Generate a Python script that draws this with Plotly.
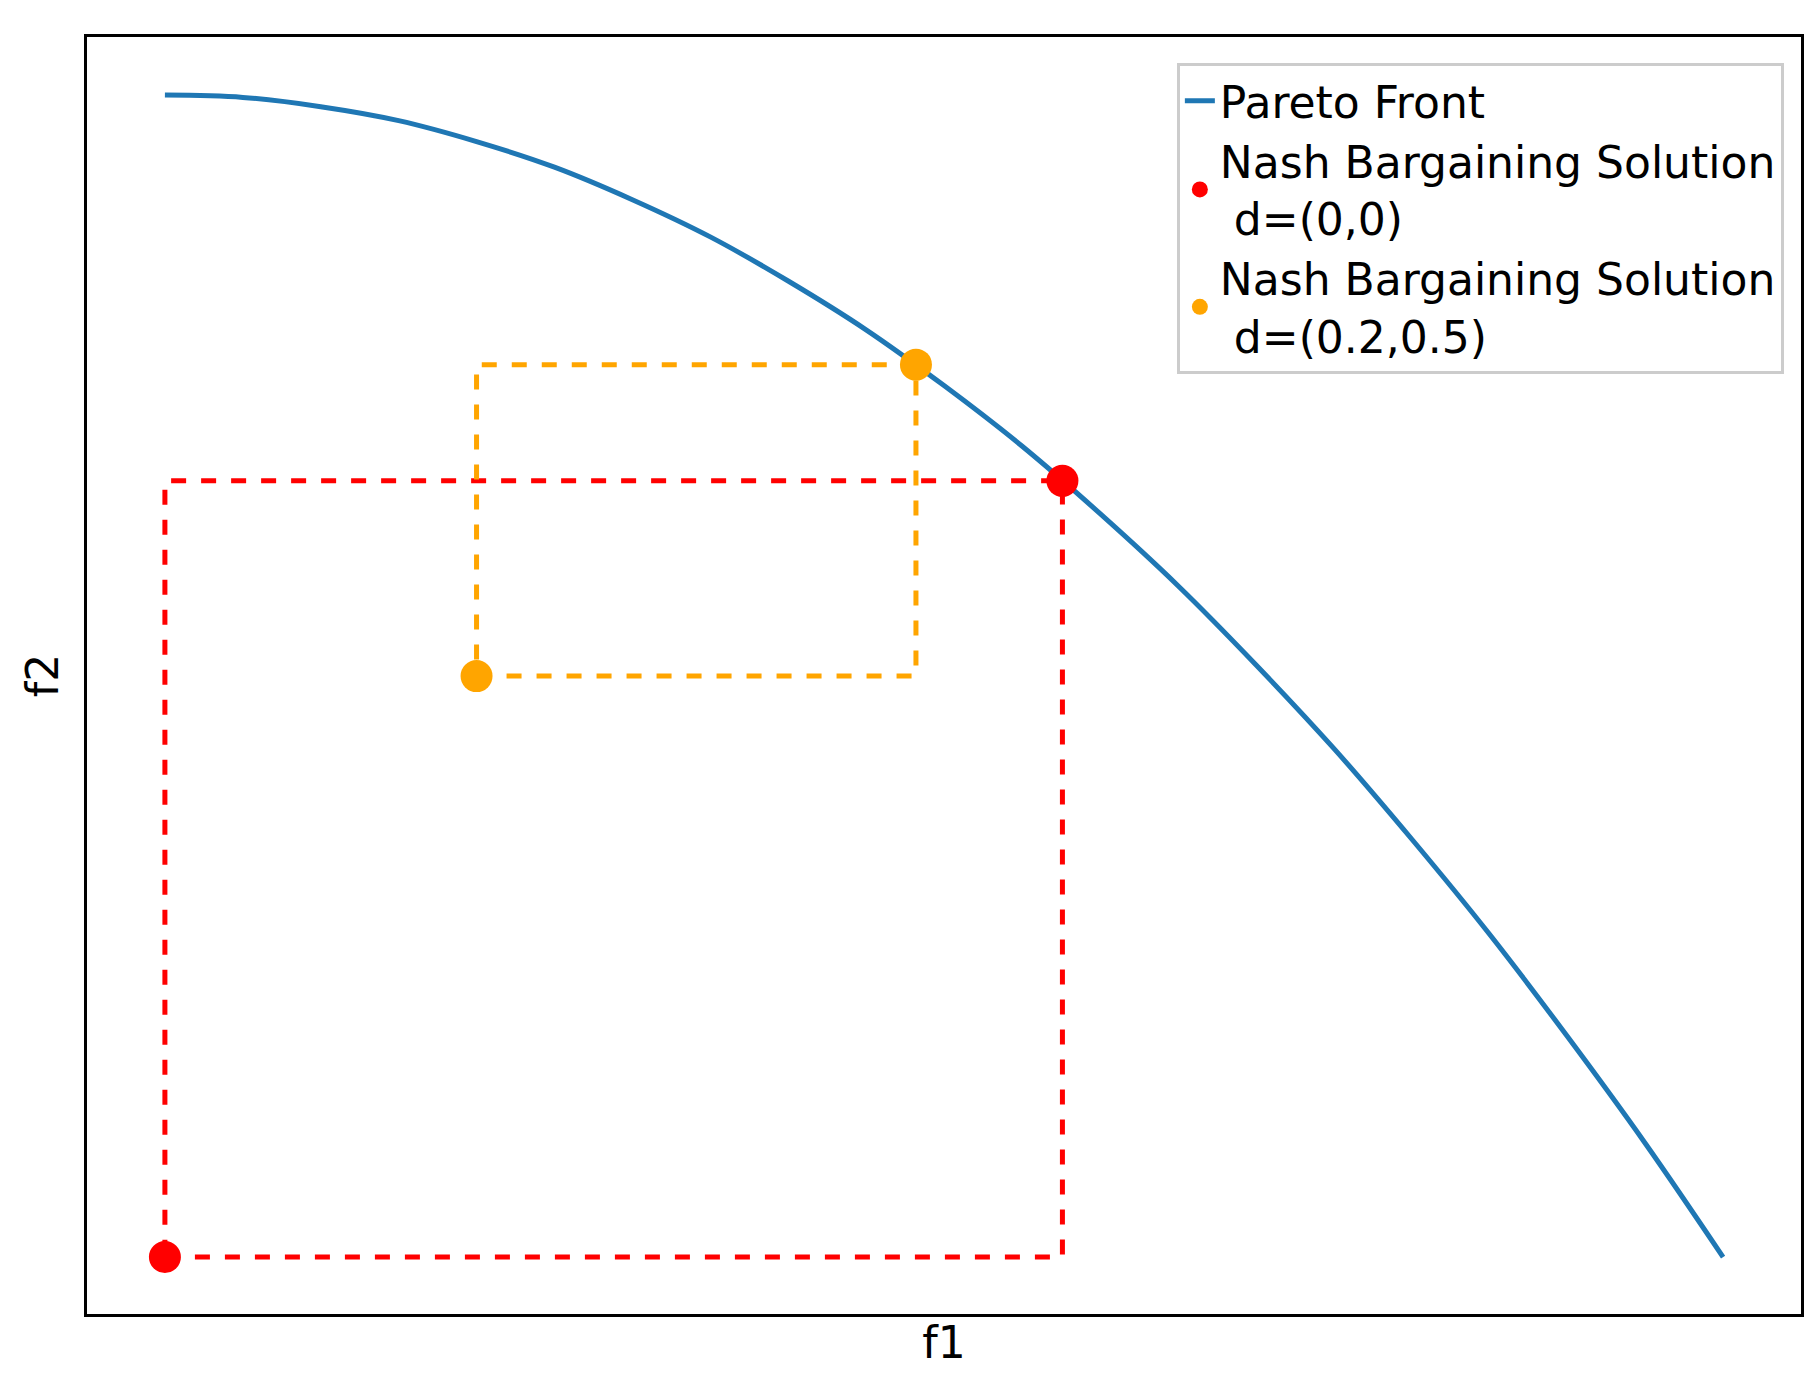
import plotly.graph_objects as go

front_f1 = [0.0,0.05,0.1,0.15,0.2,0.25,0.3,0.35,0.4,0.45,0.5,0.55,0.6,0.65,0.7,0.75,0.8,0.85,0.9,0.95,1.0]
front_f2 = [1.0,0.998,0.99,0.978,0.96,0.938,0.91,0.878,0.84,0.798,0.75,0.698,0.64,0.578,0.51,0.438,0.36,0.278,0.19,0.098,0.0]
nbs0 = (0.576, 0.668); d0 = (0.0, 0.0)
nbs1 = (0.482, 0.768); d1 = (0.2, 0.5)

fig = go.Figure()
fig.add_trace(go.Scatter(x=front_f1, y=front_f2, mode="lines", line=dict(color="#1f77b4", width=5, shape="spline"), name="Pareto Front"))
fig.add_trace(go.Scatter(x=[d0[0], nbs0[0], nbs0[0], d0[0], d0[0]], y=[d0[1], d0[1], nbs0[1], nbs0[1], d0[1]],
                         mode="lines", line=dict(color="red", width=5, dash="dash"), showlegend=False))
fig.add_trace(go.Scatter(x=[d1[0], nbs1[0], nbs1[0], d1[0], d1[0]], y=[d1[1], d1[1], nbs1[1], nbs1[1], d1[1]],
                         mode="lines", line=dict(color="orange", width=5, dash="dash"), showlegend=False))
fig.add_trace(go.Scatter(x=[d0[0], nbs0[0]], y=[d0[1], nbs0[1]], mode="markers", marker=dict(color="red", size=32),
                         name="Nash Bargaining Solution<br> d=(0,0)"))
fig.add_trace(go.Scatter(x=[d1[0], nbs1[0]], y=[d1[1], nbs1[1]], mode="markers", marker=dict(color="orange", size=32),
                         name="Nash Bargaining Solution<br> d=(0.2,0.5)"))

fig.update_layout(
    width=1818, height=1379, plot_bgcolor="white", paper_bgcolor="white",
    margin=dict(l=79, r=25, t=29, b=73),
    font=dict(family="DejaVu Sans", size=44, color="black"),
    legend=dict(x=0.99, y=0.98, xanchor="right", yanchor="top", bgcolor="rgba(255,255,255,0.8)",
                bordercolor="#cccccc", borderwidth=3, font=dict(size=44), tracegroupgap=14),
    xaxis=dict(range=[-0.05, 1.05], showticklabels=False, ticks="", showgrid=False, zeroline=False,
               showline=True, mirror=True, linecolor="black", linewidth=3,
               title=dict(text="f1", standoff=12, font=dict(size=44))),
    yaxis=dict(range=[-0.049, 1.05], showticklabels=False, ticks="", showgrid=False, zeroline=False,
               showline=True, mirror=True, linecolor="black", linewidth=3,
               title=dict(text="f2", standoff=12, font=dict(size=44))),
)
fig.write_html("out.html")
